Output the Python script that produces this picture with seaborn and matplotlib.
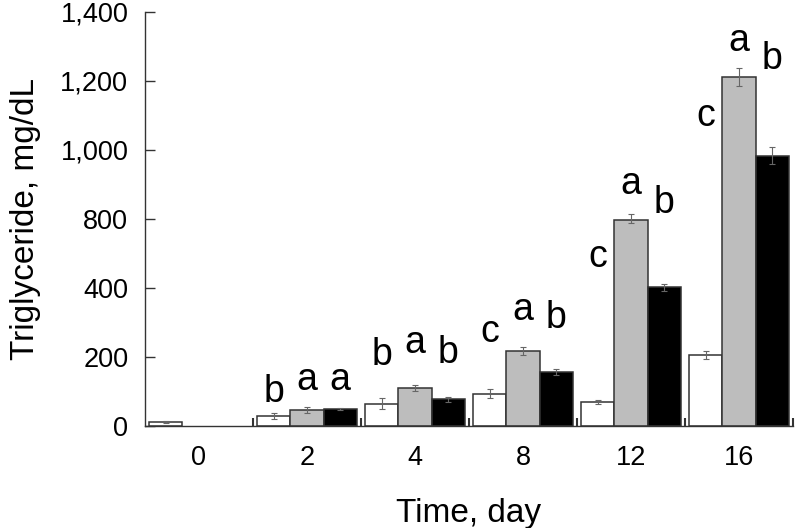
import numpy as np
import pandas as pd
import matplotlib
matplotlib.use("Agg")
import matplotlib.pyplot as plt
from matplotlib.ticker import FixedLocator, FuncFormatter
import seaborn as sns

# data
days = ["0", "2", "4", "8", "12", "16"]
groups = ["white", "gray", "black"]
white_vals = [12, 29, 64, 94, 70, 205]
gray_vals = [np.nan, 47, 110, 218, 795, 1211]
black_vals = [np.nan, 48, 77, 157, 405, 983]
white_err = [3, 8, 16, 13, 6, 11]
gray_err = [np.nan, 8, 8, 12, 18, 27]
black_err = [np.nan, 3, 8, 8, 15, 24]

# significance letters and their heights (mg/dL)
white_letters = ["", "b", "b", "c", "c", "c"]
gray_letters = ["", "a", "a", "a", "a", "a"]
black_letters = ["", "a", "b", "b", "b", "b"]
white_letter_y = [0, 69, 177, 243, 522, 1070]
gray_letter_y = [0, 104, 211, 307, 873, 1287]
black_letter_y = [0, 104, 182, 284, 818, 1235]

y_ticks = [0, 200, 400, 800, 1000, 1200, 1400]

colors = {"white": "white", "gray": "#bdbdbd", "black": "black"}

df = pd.DataFrame({
    "day": days * 3,
    "group": [g for g in groups for _ in days],
    "value": white_vals + gray_vals + black_vals,
})


# y axis squeezes 400-800 into the space of one 200 step
def fwd(v):
    v = np.asarray(v, dtype=float)
    return np.where(v <= 400, v, np.where(v <= 800, 400 + (v - 400) / 2, v - 200))


def inv(t):
    t = np.asarray(t, dtype=float)
    return np.where(t <= 400, t, np.where(t <= 600, 400 + (t - 400) * 2, t + 200))


sns.set_style("white")
plt.rcParams["font.family"] = ["Liberation Sans", "DejaVu Sans"]
plt.rcParams["text.color"] = "black"
plt.rcParams["axes.labelcolor"] = "black"
plt.rcParams["xtick.color"] = "black"
plt.rcParams["ytick.color"] = "black"

fig = plt.figure(figsize=(7.96, 5.28), dpi=100)
ax = fig.add_axes([145 / 796, 102 / 528, 648 / 796, 414.3 / 528])

bar_w = 0.92
sns.barplot(data=df, x="day", y="value", hue="group", order=days, hue_order=groups,
            palette=colors, width=bar_w, errorbar=None, legend=False,
            edgecolor="#333333", linewidth=1.1, ax=ax)

ax.set_yscale("function", functions=(fwd, inv))
ax.set_ylim(0, 1400)
ax.set_xlim(-0.5, 5.5)

errs = [white_err, gray_err, black_err]
vals = [white_vals, gray_vals, black_vals]
letters = [white_letters, gray_letters, black_letters]
letter_y = [white_letter_y, gray_letter_y, black_letter_y]
for k in range(len(groups)):
    off = (k - 1) * bar_w / len(groups)
    for i in range(len(days)):
        if np.isnan(vals[k][i]):
            continue
        x = i + off
        ax.errorbar(x, vals[k][i], yerr=errs[k][i], fmt="none",
                    ecolor="#666666", elinewidth=0.8, capsize=2, capthick=0.8, zorder=5)
        if letters[k][i]:
            ax.text(x, letter_y[k][i], letters[k][i], ha="center", va="baseline",
                    fontsize=27, color="black")

ax.yaxis.set_major_locator(FixedLocator(y_ticks))
ax.yaxis.set_major_formatter(FuncFormatter(lambda v, p: f"{int(round(v)):,}"))
ax.tick_params(axis="y", direction="in", length=7, width=1, color="#333333",
               labelcolor="black", labelsize=19.5, pad=12, left=True)
ax.tick_params(axis="x", which="major", length=0, labelcolor="black", labelsize=19.5, pad=14)
ax.set_xticks([i + 0.5 for i in range(len(days))], minor=True)
ax.tick_params(axis="x", which="minor", direction="in", length=6, width=1.5,
               color="#333333", bottom=True)

for s in ["top", "right"]:
    ax.spines[s].set_visible(False)
for s in ["left", "bottom"]:
    ax.spines[s].set_color("#333333")
    ax.spines[s].set_linewidth(1)

ax.set_xlabel("Time, day", fontsize=24, labelpad=19, color="black")
ax.set_ylabel("Triglyceride, mg/dL", fontsize=24, labelpad=14, color="black")

fig.savefig("out.png", dpi=100)
